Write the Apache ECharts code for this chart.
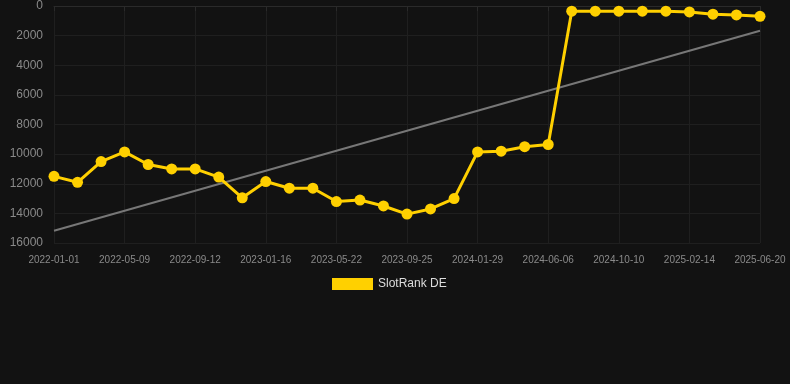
<!DOCTYPE html>
<html>
<head>
<meta charset="utf-8">
<script src="https://cdn.jsdelivr.net/npm/echarts@6/dist/echarts.min.js"></script>
<style>
  html, body { margin: 0; padding: 0; background: #121212; }
  #chart { width: 790px; height: 384px; }
</style>
</head>
<body>
<div id="chart"></div>
<script>
var dates = [
  "2022-01-01", "2022-02-12", "2022-03-26", "2022-05-09", "2022-06-20", "2022-08-01",
  "2022-09-12", "2022-10-24", "2022-12-05", "2023-01-16", "2023-02-27", "2023-04-10",
  "2023-05-22", "2023-07-03", "2023-08-14", "2023-09-25", "2023-11-06", "2023-12-18",
  "2024-01-29", "2024-03-11", "2024-04-22", "2024-06-06", "2024-07-18", "2024-08-29",
  "2024-10-10", "2024-11-21", "2025-01-02", "2025-02-14", "2025-03-28", "2025-05-09",
  "2025-06-20"
];
var rankDE = [
  11500, 11900, 10500, 9850, 10700, 11000,
  11000, 11550, 12950, 11850, 12300, 12300,
  13200, 13100, 13500, 14050, 13700, 13000,
  9850, 9800, 9500, 9350, 350, 350,
  350, 350, 350, 400, 550, 600,
  700
];
// trend line end points
var trendStart = 15170;
var trendEnd = 1670;

var chart = echarts.init(document.getElementById('chart'));
var option = {
  backgroundColor: '#121212',
  animation: false,
  grid: {
    left: 54,
    right: 30,
    top: 6,
    bottom: 141
  },
  legend: {
    top: 273,
    left: 327,
    itemWidth: 41,
    itemHeight: 12,
    itemGap: 10,
    textStyle: { color: '#dddddd', fontSize: 12, fontFamily: 'Arial, Liberation Sans, sans-serif' },
    data: [{ name: 'SlotRank DE', icon: 'rect' }]
  },
  xAxis: {
    type: 'category',
    boundaryGap: false,
    data: dates,
    axisLine: { lineStyle: { color: '#2a2a2a' } },
    axisTick: { show: true, interval: 2, length: 5, lineStyle: { color: '#2a2a2a' } },
    axisLabel: {
      interval: 2,
      color: '#8a8a8a',
      fontSize: 10,
      margin: 12,
      fontFamily: 'Arial, Liberation Sans, sans-serif'
    },
    splitLine: { show: true, interval: 2, lineStyle: { color: '#1f1f1f' } }
  },
  yAxis: {
    type: 'value',
    inverse: true,
    min: 0,
    max: 16000,
    interval: 2000,
    axisLine: { show: false },
    axisTick: { show: false },
    axisLabel: {
      color: '#8a8a8a',
      fontSize: 12,
      margin: 11,
      fontFamily: 'Arial, Liberation Sans, sans-serif',
      formatter: function (v) { return String(v); }
    },
    splitLine: { lineStyle: { color: '#1f1f1f' } }
  },
  series: [
    {
      name: 'SlotRank DE',
      type: 'line',
      data: rankDE,
      color: '#ffd000',
      symbol: 'circle',
      symbolSize: 11,
      lineStyle: { width: 3, color: '#ffd000' },
      itemStyle: { color: '#ffd000' },
      z: 3
    },
    {
      name: 'trend',
      type: 'line',
      data: [[dates[0], trendStart], [dates[dates.length - 1], trendEnd]],
      symbol: 'none',
      lineStyle: { width: 2, color: '#777777' },
      z: 2
    }
  ]
};
chart.setOption(option);
</script>
</body>
</html>
